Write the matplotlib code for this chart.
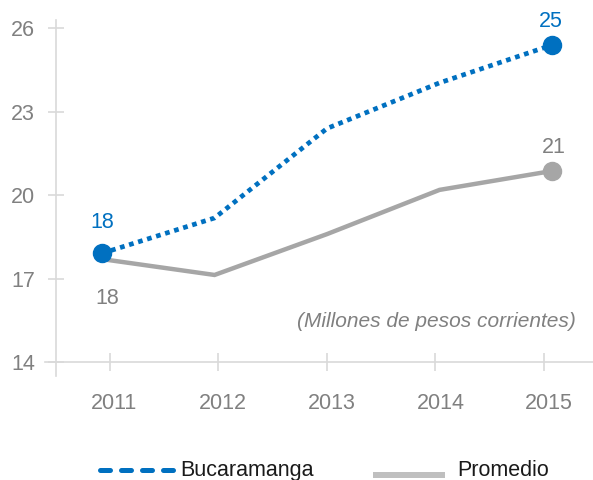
import matplotlib
matplotlib.use('Agg')
import matplotlib.pyplot as plt
from matplotlib.lines import Line2D

years = ['2011', '2012', '2013', '2014', '2015']
bucaramanga = [17.91, 19.18, 22.4, 24.04, 25.4]
promedio = [17.7, 17.13, 18.6, 20.19, 20.87]
yticks = [14, 17, 20, 23, 26]
note = '(Millones de pesos corrientes)'

blue = '#0070C0'
gray = '#A6A6A6'
txt = '#808080'
axc = '#D9D9D9'
font = ['Liberation Sans Narrow', 'Liberation Sans', 'DejaVu Sans']
plt.rcParams['font.family'] = font

W, H = 593, 480
fig = plt.figure(figsize=(W / 100, H / 100), dpi=100)
ax = fig.add_axes([45 / W, 1 - 376 / H, 548 / W, 356 / H])

x = list(range(len(years)))
ax.plot(x, promedio, color=gray, lw=3.2, marker='o', markevery=[4], ms=13,
        solid_joinstyle='miter', zorder=3, clip_on=False)
ax.plot(x, bucaramanga, color=blue, lw=3.4, linestyle=(0, (1, 1)),
        dash_capstyle='butt', marker='o', markevery=[0, 4], ms=13,
        zorder=4, clip_on=False)

ax.set_xlim(-0.507, 4.364)
ax.set_ylim(13.496, 26.30)

for s in ['top', 'right']:
    ax.spines[s].set_visible(False)
ax.spines['left'].set_position(('data', -0.409))
ax.spines['bottom'].set_position(('data', 14))
for s in ['left', 'bottom']:
    ax.spines[s].set_color(axc)
    ax.spines[s].set_linewidth(1.2)

fs = 15.5

ax.set_yticks(yticks)
ax.set_yticklabels([str(v) for v in yticks])
ax.tick_params(axis='y', direction='inout', length=12, width=1.2, color=axc,
               labelcolor=txt, labelsize=fs, pad=9)

# tick marks and labels sit slightly off the data points, as in the source
ax.set_xticks([0.071 + 0.964 * i for i in x])
ax.set_xticklabels([])
ax.set_xticks([0.107 + 0.967 * i for i in x], minor=True)
ax.set_xticklabels(years, minor=True)
ax.tick_params(axis='x', which='major', direction='inout', length=13.5,
               width=1.2, color=axc)
ax.tick_params(axis='x', which='minor', length=0, labelcolor=txt,
               labelsize=fs, pad=22)

ax.annotate(f'{bucaramanga[0]:.0f}', (0, bucaramanga[0]), xytext=(0, 22),
            textcoords='offset points', ha='center', va='center',
            color=blue, fontsize=fs)
ax.annotate(f'{bucaramanga[4]:.0f}', (4, bucaramanga[4]), xytext=(-1, 17),
            textcoords='offset points', ha='center', va='center',
            color=blue, fontsize=fs)
ax.annotate(f'{promedio[4]:.0f}', (4, promedio[4]), xytext=(1, 17),
            textcoords='offset points', ha='center', va='center',
            color=txt, fontsize=fs)
ax.annotate(f'{promedio[0]:.0f}', (0, promedio[0]), xytext=(4, -28),
            textcoords='offset points', ha='center', va='center',
            color=txt, fontsize=fs)

ax.text(4.213, 15.47, note, ha='right', va='center', style='italic',
        color=txt, fontsize=fs - 0.5)

# legend drawn by hand
fig.add_artist(Line2D([100 / W, 177 / W], [1 - 470 / H, 1 - 470 / H],
                      color=blue, lw=3.6, dashes=[2, 2.2],
                      dash_capstyle='round', transform=fig.transFigure))
fig.text(180 / W, 1 - 476 / H, 'Bucaramanga', color='#1a1a1a', fontsize=fs,
         va='baseline', ha='left')
fig.add_artist(Line2D([373 / W, 445 / W], [1 - 475 / H, 1 - 475 / H],
                      color='#BFBFBF', lw=4.3, solid_capstyle='butt',
                      transform=fig.transFigure))
fig.text(457 / W, 1 - 476 / H, 'Promedio', color='#1a1a1a', fontsize=fs,
         va='baseline', ha='left')

fig.savefig('out.png', dpi=100)
